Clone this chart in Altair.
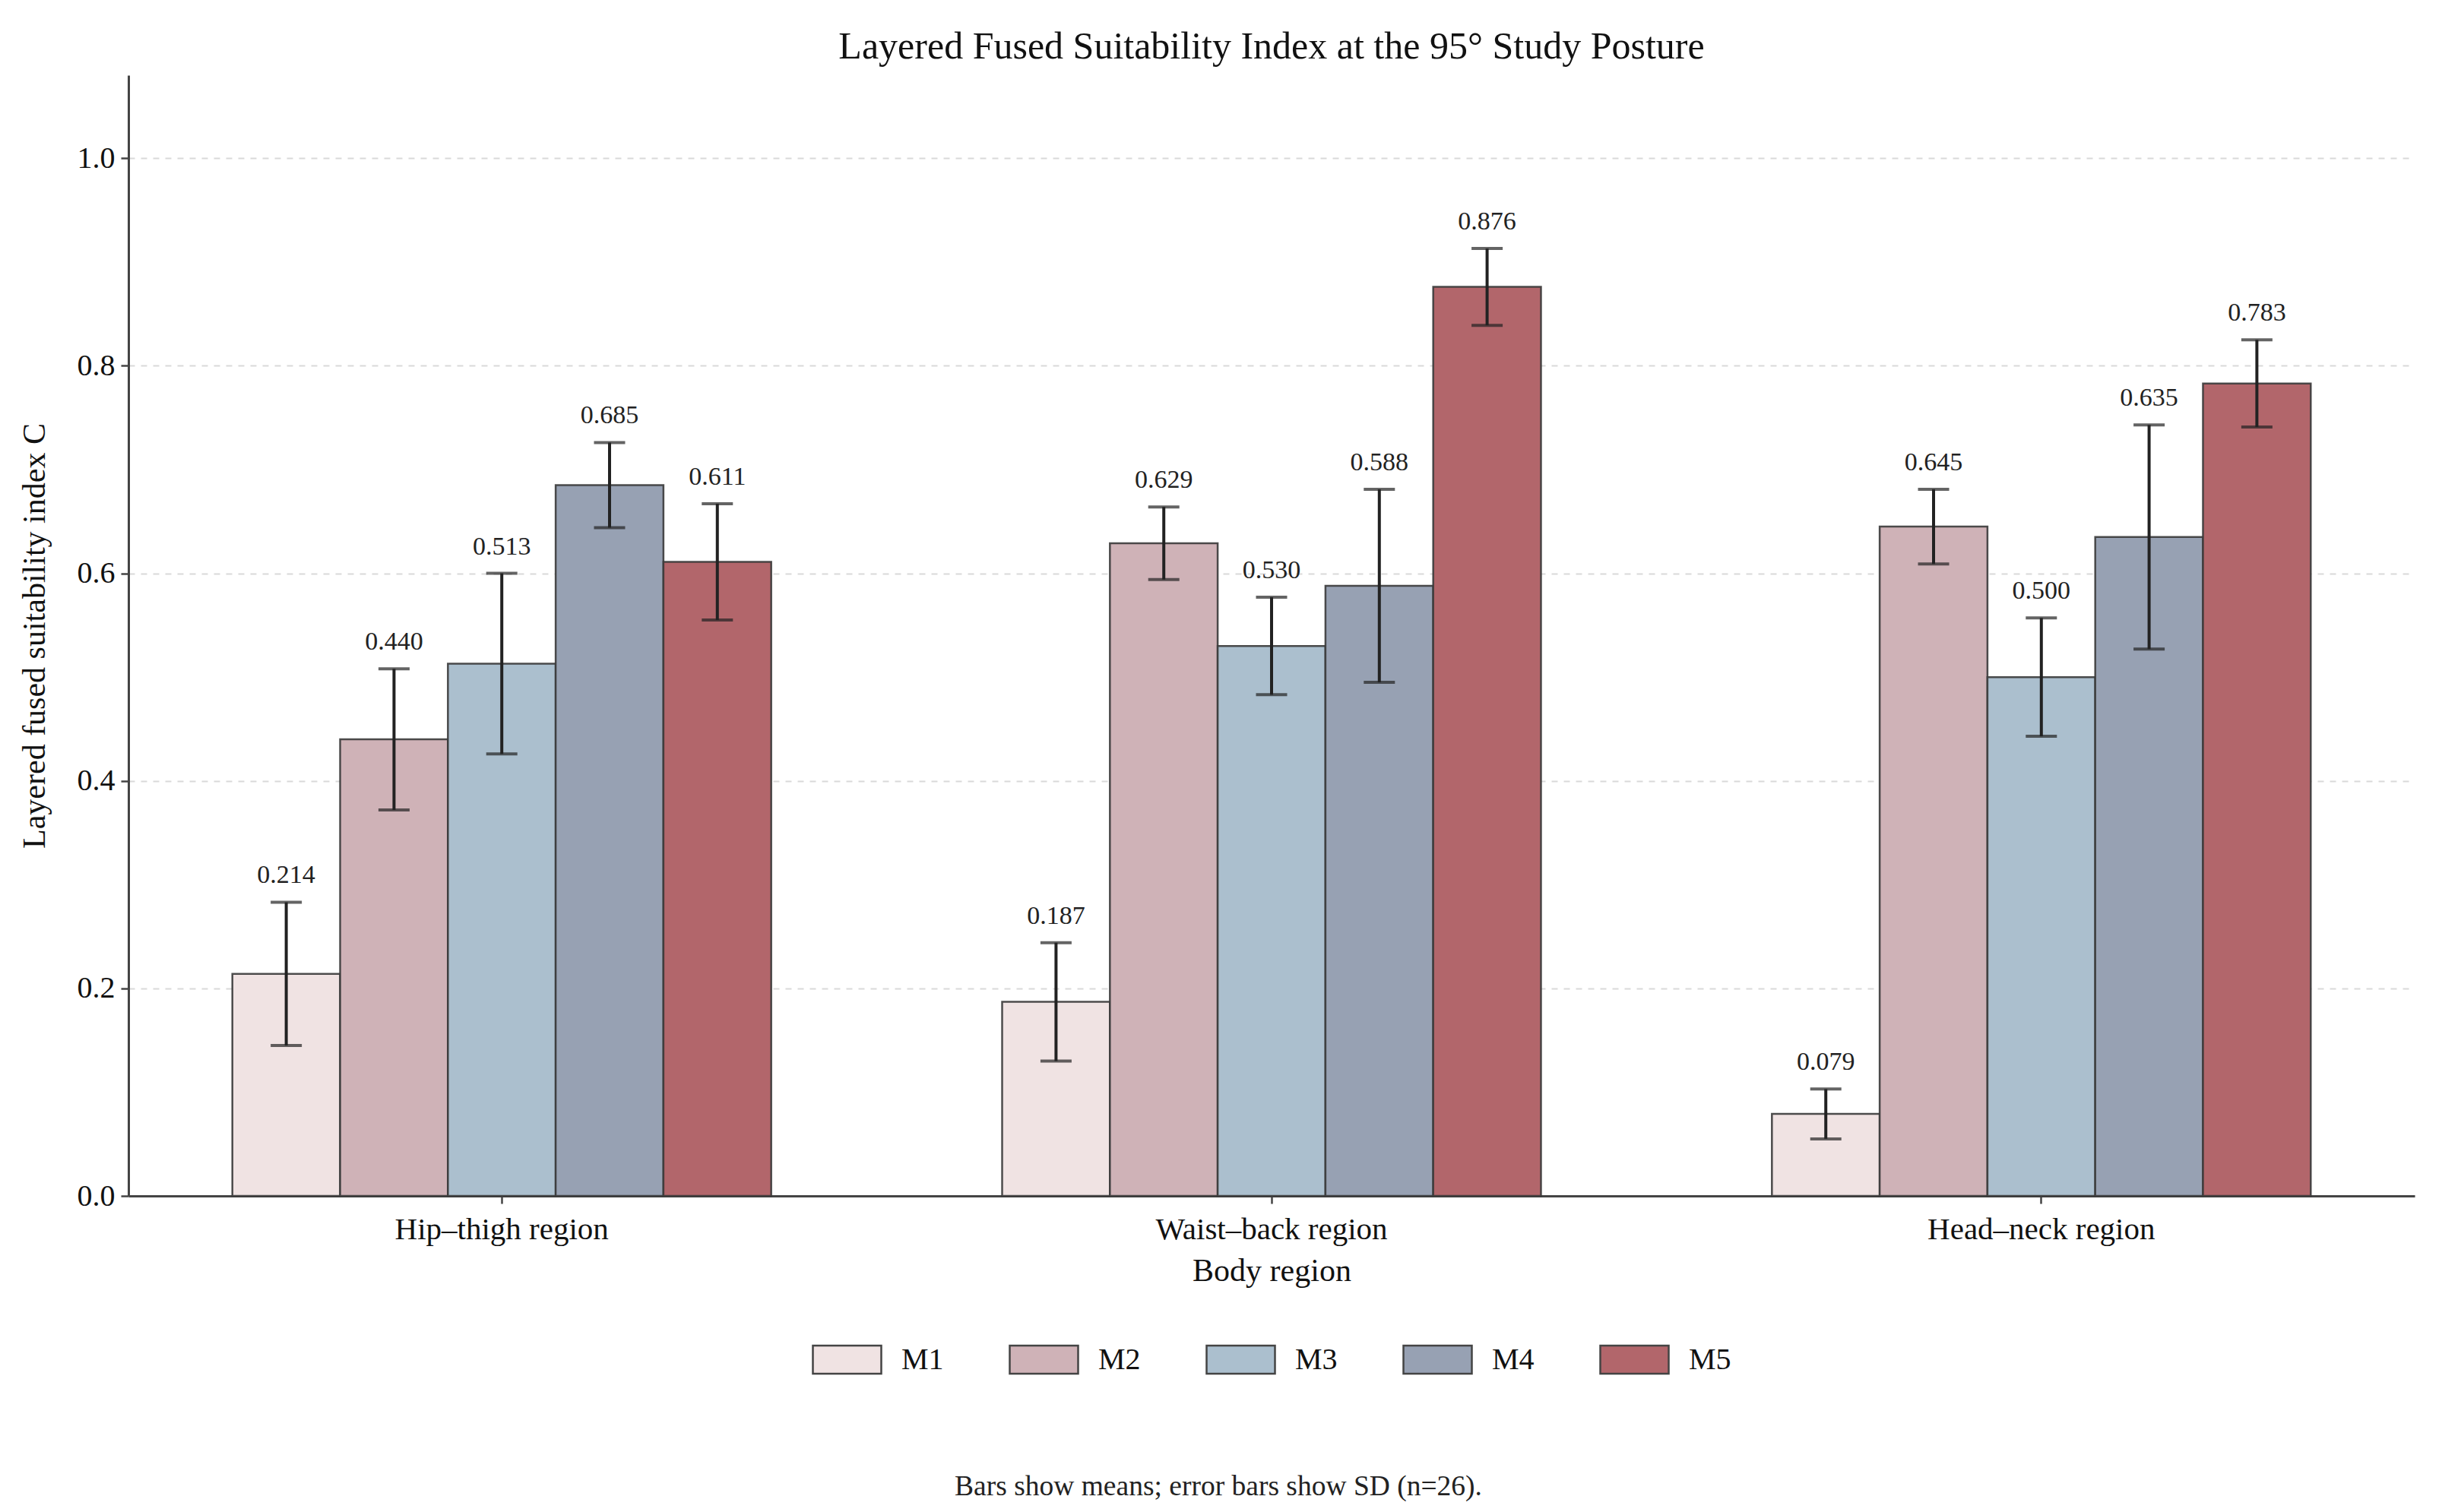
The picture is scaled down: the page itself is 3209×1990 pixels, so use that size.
import altair as alt
import pandas as pd

regions = ["Hip–thigh region", "Waist–back region", "Head–neck region"]
models = ["M1", "M2", "M3", "M4", "M5"]
colors = ["#F0E3E3", "#CFB2B7", "#ABBFCE", "#97A1B3", "#B2666B"]

hip_means = [0.214, 0.440, 0.513, 0.685, 0.611]
hip_sd = [0.069, 0.068, 0.087, 0.041, 0.056]
waist_means = [0.187, 0.629, 0.530, 0.588, 0.876]
waist_sd = [0.057, 0.035, 0.047, 0.093, 0.037]
head_means = [0.079, 0.645, 0.500, 0.635, 0.783]
head_sd = [0.024, 0.036, 0.057, 0.108, 0.042]

title = "Layered Fused Suitability Index at the 95° Study Posture"
note = "Bars show means; error bars show SD (n=26)."

rows = []
for reg, ms, ss in [(regions[0], hip_means, hip_sd),
                    (regions[1], waist_means, waist_sd),
                    (regions[2], head_means, head_sd)]:
    for m, v, s in zip(models, ms, ss):
        rows.append({"region": reg, "model": m, "mean": v, "lo": v - s, "hi": v + s,
                     "label": f"{v:.3f}"})
df = pd.DataFrame(rows)

FONT = "Liberation Serif"
W, H = 3008, 1475

xenc = alt.X("region:N", sort=regions, title="Body region",
             scale=alt.Scale(paddingInner=0.3, paddingOuter=0.135),
             axis=alt.Axis(labelAngle=0, tickSize=10, labelPadding=14, titlePadding=14,
                           labelLimit=0, labelFontSize=41))
xoff = alt.XOffset("model:N", sort=models, scale=alt.Scale(paddingInner=0, paddingOuter=0))

base = alt.Chart(df)

bars = base.mark_bar(stroke="#3a3a3a", strokeWidth=2.5, strokeOpacity=0.9).encode(
    x=xenc,
    xOffset=xoff,
    y=alt.Y("mean:Q", title="Layered fused suitability index C",
            scale=alt.Scale(domain=[0, 1.08], nice=False),
            axis=alt.Axis(values=[0, 0.2, 0.4, 0.6, 0.8, 1.0], format=".1f",
                          tickSize=10, labelPadding=8, titlePadding=34,
                          grid=True, gridDash=[8, 8], gridColor="#d9d9d9", gridWidth=2)),
    fill=alt.Fill("model:N", sort=models, scale=alt.Scale(domain=models, range=colors),
                  legend=alt.Legend(title=None, orient="none", direction="horizontal",
                                    legendX=899, legendY=1644,
                                    symbolType="M-1,-0.41L1,-0.41L1,0.41L-1,0.41Z",
                                    symbolSize=8100, symbolStrokeColor="#444444",
                                    symbolStrokeWidth=2.5, labelOffset=25,
                                    columnPadding=81, labelFontSize=40, labelFont=FONT,
                                    labelColor="#111111")),
)

rule = base.mark_rule(color="#222222", strokeWidth=4).encode(
    x=alt.X("region:N", sort=regions), xOffset=xoff, y="lo:Q", y2="hi:Q")
cap_hi = base.mark_tick(color="#222222", thickness=4, size=41, orient="horizontal").encode(
    x=alt.X("region:N", sort=regions), xOffset=xoff, y="hi:Q")
cap_lo = base.mark_tick(color="#222222", thickness=4, size=41, orient="horizontal").encode(
    x=alt.X("region:N", sort=regions), xOffset=xoff, y="lo:Q")
labels = base.mark_text(font=FONT, fontSize=34, color="#222222", baseline="alphabetic",
                        dy=-25).encode(
    x=alt.X("region:N", sort=regions), xOffset=xoff, y="hi:Q", text="label:N")

footnote = alt.Chart(pd.DataFrame({"t": [note]})).mark_text(
    font=FONT, fontSize=37.5, color="#222222", align="center", baseline="middle").encode(
    text="t:N", x=alt.value(1434), y=alt.value(1858))

chart = alt.layer(bars, rule, cap_hi, cap_lo, labels, footnote).properties(
    width=W, height=H,
    title=alt.TitleParams(title, font=FONT, fontSize=50, fontWeight="normal",
                          color="#111111", offset=12),
    autosize=alt.AutoSizeParams(type="none"),
    padding={"left": 161, "top": 91, "right": 5, "bottom": 410},
).configure_view(stroke=None).configure_axis(
    labelFont=FONT, titleFont=FONT, labelFontSize=40, titleFontSize=42,
    labelColor="#111111", titleColor="#111111", titleFontWeight="normal",
    domainColor="#444444", domainWidth=3, tickColor="#444444", tickWidth=2.5,
).configure_axisX(grid=False)

chart.save("out.html", embed_options={"renderer": "svg", "actions": False})
